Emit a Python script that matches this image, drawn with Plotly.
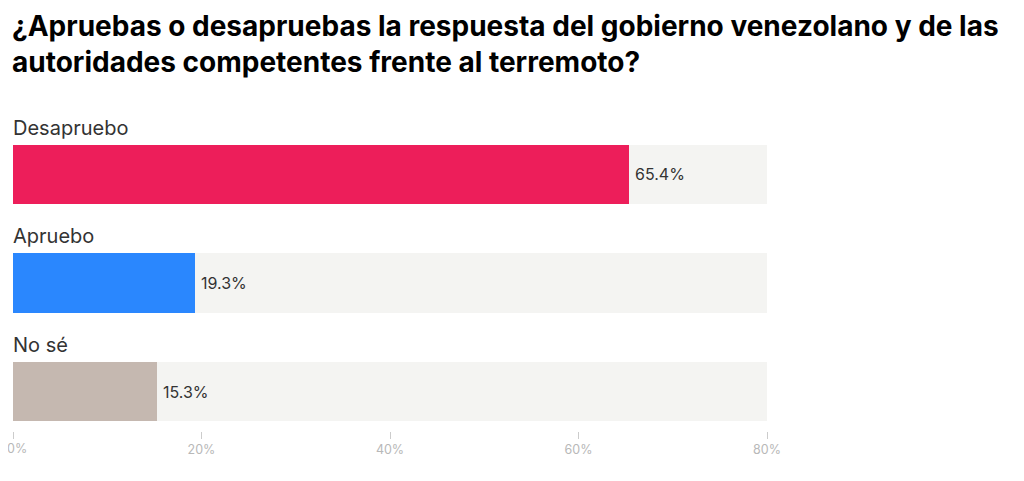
import plotly.graph_objects as go

categories = ["Desapruebo", "Apruebo", "No sé"]
values = [65.4, 19.3, 15.3]
colors = ["#ed1e5a", "#2a87fe", "#c5b8b0"]
axis_max = 80
tick_values = [0, 20, 40, 60, 80]
tick_labels = ["0%", "20%", "40%", "60%", "80%"]

title = (
    "<b>¿Apruebas o desapruebas la respuesta del gobierno venezolano y de las<br>"
    "autoridades competentes frente al terremoto?</b>"
)

positions = list(range(len(categories)))
bar_width = 0.544
tick_font = {"family": "Inter", "size": 12.5, "color": "#b8b8b8"}

fig = go.Figure()

# background track for each row
fig.add_trace(
    go.Bar(
        x=[axis_max] * len(categories),
        y=positions,
        orientation="h",
        width=bar_width,
        marker={"color": "#f4f4f2", "line": {"width": 0}},
        hoverinfo="skip",
        showlegend=False,
    )
)
fig.add_trace(
    go.Bar(
        x=values,
        y=positions,
        orientation="h",
        width=bar_width,
        marker={"color": colors, "line": {"width": 0}},
        showlegend=False,
    )
)

annotations = [
    {
        "x": 0,
        "y": 1,
        "xref": "paper",
        "yref": "paper",
        "text": title,
        "showarrow": False,
        "align": "left",
        "xanchor": "left",
        "yanchor": "top",
        "xshift": -3,
        "yshift": 113,
        "font": {"family": "Inter", "size": 28, "color": "#000000"},
    },
    # first tick label sits at the very edge of the page, so it is left-anchored
    {
        "x": tick_values[0],
        "y": 0,
        "xref": "x",
        "yref": "paper",
        "text": tick_labels[0],
        "showarrow": False,
        "xanchor": "left",
        "yanchor": "top",
        "xshift": -8,
        "yshift": -8,
        "font": tick_font,
    },
]
for pos, name, value in zip(positions, categories, values):
    annotations.append(
        {
            "x": 0,
            "y": pos - bar_width / 2,
            "xref": "x",
            "yref": "y",
            "text": name,
            "showarrow": False,
            "xanchor": "left",
            "yanchor": "bottom",
            "yshift": 3,
            "xshift": -2,
            "font": {"family": "Inter", "size": 20, "color": "#333333"},
        }
    )
    annotations.append(
        {
            "x": value,
            "y": pos,
            "xref": "x",
            "yref": "y",
            "text": f"{value}%",
            "showarrow": False,
            "xanchor": "left",
            "yanchor": "middle",
            "xshift": 4,
            "font": {"family": "Inter", "size": 16, "color": "#333333"},
        }
    )

fig.update_layout(
    width=1016,
    height=473,
    margin={"l": 5, "r": 257, "t": 112, "b": 50, "autoexpand": False},
    paper_bgcolor="white",
    plot_bgcolor="white",
    barmode="overlay",
    bargap=0,
    annotations=annotations,
    xaxis={
        "range": [0, axis_max],
        "tickvals": tick_values,
        "ticktext": [""] + tick_labels[1:],
        "ticks": "outside",
        "ticklen": 7,
        "tickcolor": "#cccccc",
        "tickfont": tick_font,
        "ticklabeloverflow": "allow",
        "showgrid": False,
        "zeroline": False,
        "showline": False,
        "automargin": False,
        "fixedrange": True,
    },
    yaxis={
        "range": [2.364, -0.502],
        "showticklabels": False,
        "showgrid": False,
        "zeroline": False,
        "automargin": False,
        "fixedrange": True,
    },
)

fig.write_html("out.html")
